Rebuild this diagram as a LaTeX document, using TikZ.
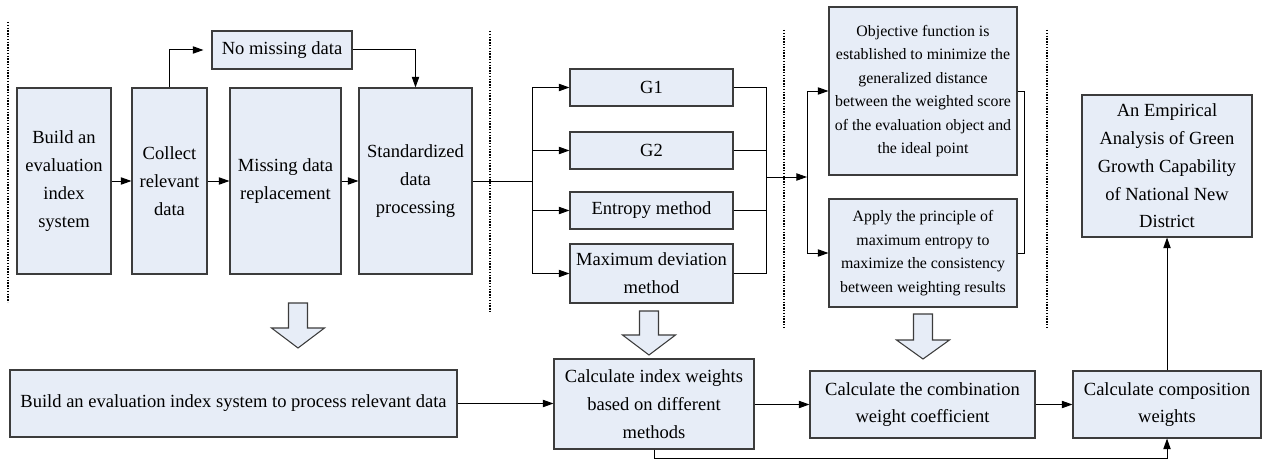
\documentclass[tikz,border=0pt]{standalone}
\usepackage{fontspec}
\setmainfont{Liberation Serif}
\usetikzlibrary{arrows.meta}
\definecolor{boxfill}{RGB}{231,237,247}
\definecolor{boxline}{RGB}{60,60,60}
\tikzset{
 box/.style={draw=boxline,fill=boxfill,line width=0.8pt,inner sep=0pt,align=center,font=\fontsize{13.9pt}{20.8pt}\selectfont},
 smallbox/.style={font=\fontsize{11.9pt}{17.6pt}\selectfont},
 conn/.style={line width=0.75pt,draw=black},
 arr/.style={conn,-{Triangle[length=8pt,width=5.5pt]}},
 sepline/.style={line width=1.1pt,dash pattern=on 1pt off 1.1pt},
 hollow/.style={draw=boxline,fill=boxfill,line width=0.8pt},
}
\newcommand\bx[7][]{\node[box,#1,minimum width={(#4-#2)*0.75pt},minimum height={(#5-#3)*0.75pt}] (#6) at ({(#2+#4)/2},{(#3+#5)/2}) {#7};}
\newcommand\hollowarrow[4]{\draw[hollow] ({#1-9.5},#2) -- ({#1+9.5},#2) -- ({#1+9.5},#3) -- ({#1+26.5},#3) -- (#1,#4) -- ({#1-26.5},#3) -- ({#1-9.5},#3) -- cycle;}
\begin{document}
\begin{tikzpicture}[x=0.75pt,y=-0.75pt]
\useasboundingbox (0,0) rectangle (1277,460);
% separators
\draw[sepline] (8,22) -- (8,302);
\draw[sepline] (490,31) -- (490,312);
\draw[sepline] (784,30) -- (784,327);
\draw[sepline] (1047,30) -- (1047,327);
% top row
\bx{17}{88}{111}{274}{build}{Build an\\evaluation\\index\\system}
\bx{132}{88}{207}{274}{collect}{Collect\\relevant\\data}
\bx{230}{88}{341}{274}{missing}{Missing data\\replacement}
\bx{359}{88}{472}{274}{std}{Standardized\\data\\processing}
\bx{212}{31}{352}{69}{nomiss}{No missing data}
\bx{570}{69}{733}{106}{g1}{G1}
\bx{570}{132}{733}{169}{g2}{G2}
\bx{570}{192}{733}{229}{ent}{Entropy method}
\bx{570}{244}{733}{303}{maxd}{Maximum deviation\\method}
\bx[smallbox]{829}{7}{1017}{175}{obj}{Objective function is\\established to minimize the\\generalized distance\\between the weighted score\\of the evaluation object and\\the ideal point}
\bx[smallbox]{829}{199}{1017}{307}{apply}{Apply the principle of\\maximum entropy to\\maximize the consistency\\between weighting results}
\bx{1082}{95}{1252}{237}{emp}{An Empirical\\Analysis of Green\\Growth Capability\\of National New\\District}
% bottom row
\bx{10}{370}{457}{437}{left}{Build an evaluation index system to process relevant data}
\bx{554}{359}{754}{449}{calc}{Calculate index weights\\based on different\\methods}
\bx{810}{371}{1035}{438}{comb}{Calculate the combination\\weight coefficient}
\bx{1073}{371}{1261}{438}{comp}{Calculate composition\\weights}
% hollow arrows
\hollowarrow{298}{303}{328}{348}
\hollowarrow{649}{311}{335}{355}
\hollowarrow{923}{314}{340}{359}
% connectors top
\draw[arr] (build) -- (collect);
\draw[arr] (collect) -- (missing);
\draw[arr] (missing) -- (std);
\draw[arr,shorten >=6pt] (collect.north) |- (nomiss.west);
\draw[arr] (nomiss.east) -| (std.north);
\coordinate (bl) at (532,181);
\draw[conn] (std.east) -- (bl);
\foreach \n in {g1,g2,ent,maxd} \draw[arr] (bl) |- (\n.west);
\coordinate (br) at (766,177);
\foreach \n in {g1,g2,ent,maxd} \draw[conn] (\n.east) -| (br);
\coordinate (bl2) at (807,177);
\draw[arr] (br) -- (bl2);
\draw[arr] (bl2) |- (obj.west);
\draw[arr] (bl2) |- (apply.west);
\coordinate (br2) at (1024,172);
\draw[conn] (obj.east) -| (br2);
\draw[conn] (apply.east) -| (br2);
% connectors bottom
\draw[arr] (left.east) -- (left.east -| calc.west);
\draw[arr] (calc.east |- comb.west) -- (comb.west);
\draw[arr] (comb.east) -- (comb.east -| comp.west);
\coordinate (bot) at (1167,458);
\draw[arr] (calc.south) |- (bot) -- (comp.south);
\draw[arr] (comp.north) -- (emp.south);
\end{tikzpicture}
\end{document}
